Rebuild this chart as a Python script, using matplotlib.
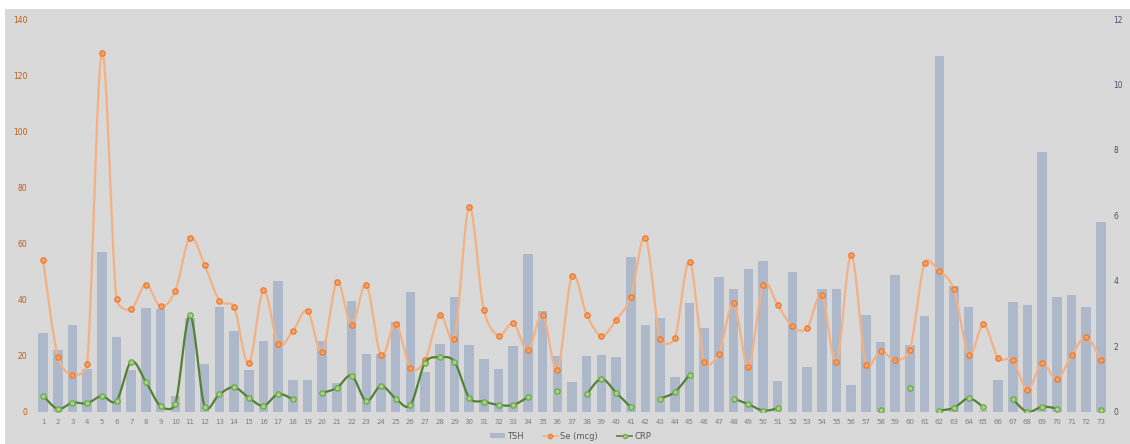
import numpy as np
import matplotlib
matplotlib.use('Agg')
import matplotlib.pyplot as plt
from matplotlib.patches import Rectangle, Patch
from matplotlib.lines import Line2D

# patient numbers 1..73
patients = [str(i) for i in range(1, 74)]

tsh = [2.42, 1.89, 2.65, 1.32, 4.88, 2.28, 1.27, 3.18, 3.14, 0.49,
       2.88, 1.48, 3.21, 2.46, 1.27, 2.16, 4.00, 0.98, 0.98, 2.16,
       0.90, 3.38, 1.76, 1.76, 2.75, 3.65, 1.22, 2.08, 3.50, 2.06,
       1.62, 1.30, 2.01, 4.82, 3.08, 1.72, 0.92, 1.72, 1.74, 1.68,
       4.73, 2.65, 2.87, 1.06, 3.33, 2.57, 4.11, 3.75, 4.38, 4.60,
       0.95, 4.27, 1.37, 3.75, 3.75, 0.81, 2.97, 2.15, 4.18, 2.05,
       2.93, 10.88, 3.84, 3.20, 0.02, 0.98, 3.35, 3.26, 7.93, 3.50,
       3.57, 3.20, 5.80]

se = [54.1, 19.7, 13.1, 17.1, 128.0, 40.3, 36.7, 45.4, 37.6, 43.1,
      62.1, 52.3, 39.7, 37.4, 17.3, 43.3, 24.2, 28.9, 36.0, 21.4,
      46.2, 30.9, 45.4, 20.2, 31.4, 15.7, 18.5, 34.7, 26.0, 73.0,
      36.2, 27.1, 31.6, 22.0, 34.7, 15.1, 48.4, 34.7, 27.1, 32.8,
      41.0, 62.1, 26.0, 26.2, 53.5, 17.7, 20.8, 38.8, 16.0, 45.1,
      38.1, 30.5, 29.9, 41.6, 17.7, 55.9, 16.7, 21.6, 18.4, 22.2,
      53.1, 50.3, 43.7, 20.2, 31.2, 19.3, 18.4, 7.9, 17.3, 11.6,
      20.2, 26.7, 18.5]

nan = np.nan
crp = [5.8, 1.1, 3.3, 3.1, 5.7, 4.0, 17.9, 10.7, 2.1, 2.8,
       34.4, 1.8, 6.3, 8.8, 5.1, 2.2, 6.4, 4.5, nan, 6.8,
       8.6, 12.9, 3.9, 9.3, 4.8, 2.5, 17.6, 19.5, 17.9, 5.1,
       3.7, 2.5, 2.5, 5.3, nan, 7.6, nan, 6.3, 11.8, 6.9,
       1.7, nan, 4.8, 7.1, 13.3, nan, nan, 4.8, 2.8, 0.5,
       1.3, nan, nan, nan, nan, nan, nan, 0.8, nan, 8.6,
       nan, 0.5, 1.5, 4.9, 1.7, nan, 4.5, 0.0, 1.9, 1.2,
       nan, nan, 0.8]

# pixel size of one unit, used so the curve looks right on screen
XPX = 14.69
YPX = 2.807


def clamp(dx, dy, seg):
    # keep a control point within half the segment length (less overshoot)
    d = np.hypot(dx * XPX, dy * YPX)
    if d > seg / 2 and d > 0:
        f = (seg / 2) / d
        return dx * f, dy * f
    return dx, dy


def smooth(xs, ys, n=24):
    out_x, out_y = [], []
    xs = np.asarray(xs, float)
    ys = np.asarray(ys, float)
    ok = ~np.isnan(ys)
    i = 0
    while i < len(ys):
        if not ok[i]:
            i += 1
            continue
        j = i
        while j + 1 < len(ys) and ok[j + 1]:
            j += 1
        px, py = xs[i:j + 1], ys[i:j + 1]
        if len(px) > 1:
            for k in range(len(px) - 1):
                p0 = k - 1 if k > 0 else k
                p3 = k + 2 if k + 2 < len(px) else k + 1
                seg = np.hypot((px[k + 1] - px[k]) * XPX,
                               (py[k + 1] - py[k]) * YPX)
                d1x, d1y = clamp((px[k + 1] - px[p0]) / 6,
                                 (py[k + 1] - py[p0]) / 6, seg)
                d2x, d2y = clamp((px[p3] - px[k]) / 6,
                                 (py[p3] - py[k]) / 6, seg)
                c1x, c1y = px[k] + d1x, py[k] + d1y
                c2x, c2y = px[k + 1] - d2x, py[k + 1] - d2y
                t = np.linspace(0, 1, n)
                bx = ((1 - t) ** 3 * px[k] + 3 * (1 - t) ** 2 * t * c1x
                      + 3 * (1 - t) * t ** 2 * c2x + t ** 3 * px[k + 1])
                by = ((1 - t) ** 3 * py[k] + 3 * (1 - t) ** 2 * t * c1y
                      + 3 * (1 - t) * t ** 2 * c2y + t ** 3 * py[k + 1])
                out_x.extend(bx)
                out_y.extend(by)
        out_x.append(nan)
        out_y.append(nan)
        i = j + 1
    return np.array(out_x), np.array(out_y)


bar_col = '#adb9ca'
se_line = '#f4b183'
se_mark = '#ed7d31'
crp_line = '#548235'
crp_mark = '#70ad47'

fig = plt.figure(figsize=(11.3, 4.44), dpi=100, facecolor='white')
fig.patches.append(Rectangle((5 / 1130, 0), 1, 1 - 9 / 444,
                             transform=fig.transFigure, facecolor='#d9d9d9',
                             edgecolor='none', zorder=0))

ax = fig.add_axes([0.0316, 0.0721, 0.9492, 0.8851])
ax2 = ax.twinx()
ax.set_zorder(2)
ax2.set_zorder(1)
ax.patch.set_visible(False)
ax2.patch.set_visible(False)

x = np.arange(len(patients))

# TSH bars on the right axis
ax2.bar(x, tsh, width=0.65, color=bar_col, zorder=1)
ax2.set_ylim(0, 12)
ax2.set_yticks(range(0, 13, 2))

# Se and CRP on the left axis
sx, sy = smooth(x, se)
ax.plot(sx, sy, color=se_line, lw=1.6, zorder=3)
ax.plot(x, se, ls='none', marker='o', ms=3.8, mfc='#f4a46a', mec=se_mark,
        mew=1.0, zorder=4)
cx, cy = smooth(x, crp)
ax.plot(cx, cy, color=crp_line, lw=1.6, zorder=5)
ax.plot(x, crp, ls='none', marker='o', ms=3.8, mfc='#a9d18e', mec=crp_mark,
        mew=1.0, zorder=6)

ax.set_ylim(0, 140)
ax.set_yticks(range(0, 141, 20))
ax.set_xlim(-0.5, len(patients) - 0.5)
ax.set_xticks(x)
ax.set_xticklabels(patients)

for a in (ax, ax2):
    for s in a.spines.values():
        s.set_visible(False)
    a.tick_params(length=0)
ax.tick_params(axis='x', labelsize=5, colors='#7f7f7f', pad=5)
ax.tick_params(axis='y', labelsize=5.5, colors='#c55a11', pad=6)
ax2.tick_params(axis='y', labelsize=5.5, colors='#44546a', pad=3.5)

handles = [Patch(facecolor=bar_col, edgecolor='none'),
           Line2D([], [], color=se_line, lw=1.2, marker='o', ms=3,
                  mfc='#f4a46a', mec=se_mark),
           Line2D([], [], color=crp_line, lw=1.2, marker='o', ms=3,
                  mfc='#a9d18e', mec=crp_mark)]
fig.legend(handles, ['TSH', 'Se (mcg)', 'CRP'], loc='center',
           bbox_to_anchor=(0.505, 0.018), ncol=3, frameon=False,
           fontsize=6, labelcolor='#595959', handlelength=1.8,
           handletextpad=0.3, columnspacing=2.3, handleheight=0.6)

fig.savefig('out.png', dpi=100, facecolor='white')
